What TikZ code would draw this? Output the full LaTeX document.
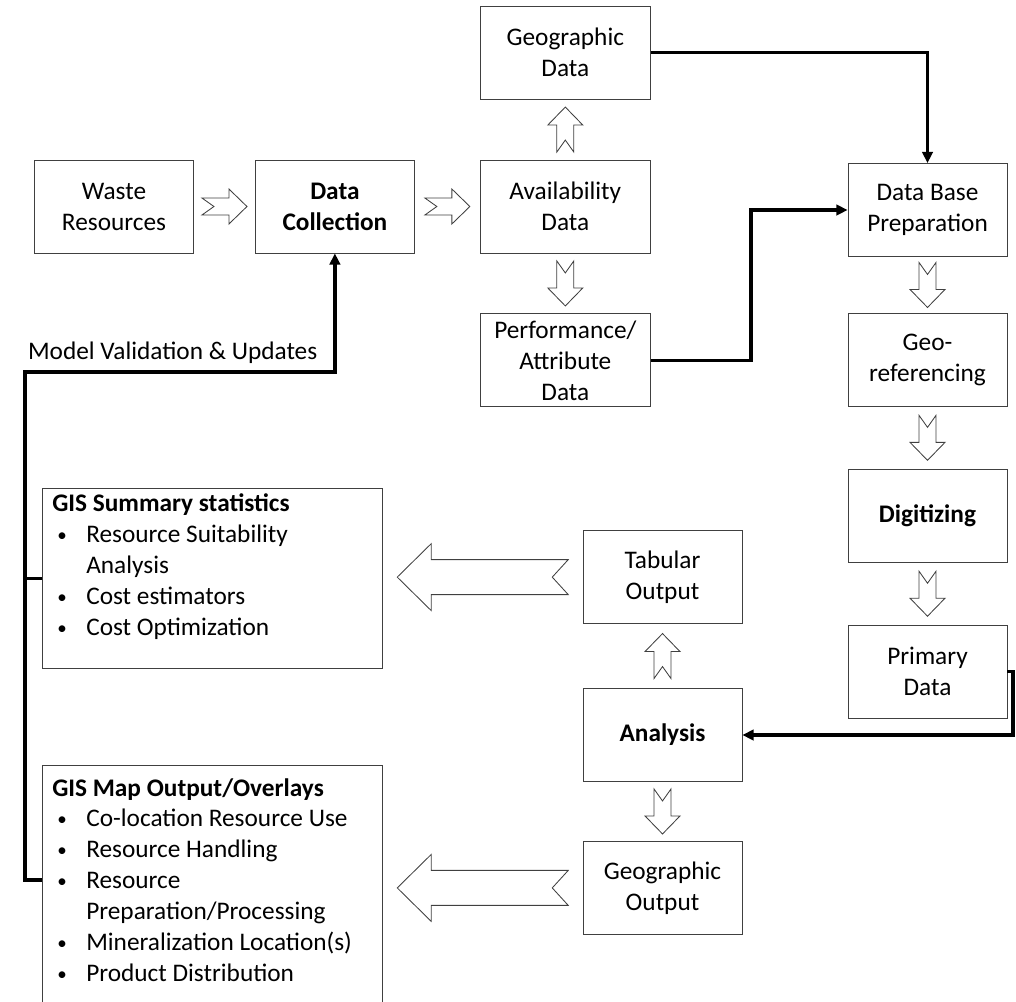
\documentclass[tikz,border=0pt]{standalone}
\usepackage{fontspec}
\setmainfont{Carlito}
\usetikzlibrary{arrows.meta, positioning, calc}
\newcommand{\bul}{\makebox[0.85cm][l]{\hspace{0.125cm}\raisebox{0.1ex}{\scalebox{0.75}{\textbullet}}}}
\newcommand{\cont}{\makebox[0.85cm]{}}
\tikzset{
    base/.style={draw=black!75, line width=0.6pt, align=center, font=\fontsize{18}{22}\selectfont, fill=white, inner sep=2pt},
    process/.style={base, rectangle, minimum width=3.975cm, minimum height=2.325cm},
    wide/.style={process, minimum width=4.25cm},
    strong/.style={font=\fontsize{18}{22}\selectfont\bfseries},
    listbox/.style={base, rectangle, anchor=north west, minimum width=8.5cm},
    listtext/.style={align=left, anchor=north west, inner sep=0pt, font=\fontsize{18}{22}\selectfont},
    wire/.style={line width=2.6pt, draw=black},
    link/.style={wire, -{Triangle[length=8pt,width=7.5pt]}},
    hollow/.style={draw=black!75, line width=0.6pt, fill=white},
    smallarrow/.pic={\draw[hollow] (-22.5,-8.5) -- (4.5,-8.5) -- (4.5,-17.5) -- (22.5,0) -- (4.5,17.5) -- (4.5,8.5) -- (-22.5,8.5) -- (-10.5,0) -- cycle;},
    bigarrow/.pic={\draw[hollow] (-85.5,-17.5) -- (51.5,-17.5) -- (51.5,-33.5) -- (85.5,0) -- (51.5,33.5) -- (51.5,17.5) -- (-85.5,17.5) -- (-69.5,0) -- cycle;}
}

\begin{document}
\begin{tikzpicture}[x=0.025cm, y=0.025cm]
    \useasboundingbox (0,0) rectangle (1016,-1001);
    \clip (0,0) rectangle (1016,-1001);

    % collection row and data sources
    \node (waste) [process] at (114,-206.5) {Waste\\Resources};
    \node (collect) [process, strong, right=1.525cm of waste] {Data\\Collection};
    \node (avail) [wide, right=1.625cm of collect] {Availability\\Data};
    \node (geodata) [wide, above=1.5cm of avail] {Geographic\\Data};
    \node (perf) [wide, below=1.5cm of avail] {Performance/\\Attribute\\Data};

    % preparation column
    \node (dbprep) [process] at (927.5,-210) {Data Base\\Preparation};
    \node (georef) [process, below=1.4cm of dbprep] {Geo-\\referencing};
    \node (digit) [process, strong, below=1.55cm of georef] {Digitizing};
    \node (primary) [process, below=1.55cm of digit] {Primary\\Data};

    % analysis column
    \node (analysis) [process, strong] at (662.5,-735) {Analysis};
    \node (tabular) [process, above=1.6cm of analysis] {Tabular\\Output};
    \node (geoout) [process, below=1.475cm of analysis] {Geographic\\Output};

    % GIS outputs
    \node (summary) [listbox, minimum height=4.5cm] at (42,-488) {};
    \node (summarytext) [listtext] at ($(summary.north west)+(10,-5.5)$) {%
        {\bfseries GIS Summary statistics}\\
        \bul Resource Suitability\\
        \cont Analysis\\
        \bul Cost estimators\\
        \bul Cost Optimization};
    \node (mapout) [listbox, minimum height=6.5cm] at (42,-765) {};
    \node (maptext) [listtext] at ($(mapout.north west)+(10,-13)$) {%
        {\bfseries GIS Map Output/Overlays}\\
        \bul Co-location Resource Use\\
        \bul Resource Handling\\
        \bul Resource\\
        \cont Preparation/Processing\\
        \bul Mineralization Location(s)\\
        \bul Product Distribution};

    % hollow arrows
    \pic at ($(waste.east)!0.5!(collect.west)$) {smallarrow};
    \pic at ($(collect.east)!0.5!(avail.west)$) {smallarrow};
    \pic[rotate=90] at ($(avail.north)!0.5!(geodata.south)$) {smallarrow};
    \pic[rotate=90] at ($(analysis.north)!0.5!(tabular.south)$) {smallarrow};
    \foreach \a/\b in {avail/perf, dbprep/georef, georef/digit, digit/primary, analysis/geoout}
        \pic[rotate=-90] at ($(\a.south)!0.5!(\b.north)$) {smallarrow};
    \pic[rotate=180] at ($(summary.east |- tabular.west)!0.5!(tabular.west)$) {bigarrow};
    \pic[rotate=180] at ($(mapout.east |- geoout.west)!0.5!(geoout.west)$) {bigarrow};

    % connectors
    \draw [link] (geodata.east) -| (dbprep.north);
    \draw [link] (perf.east) -- ++(2.5cm,0) |- (dbprep.west);
    \coordinate (rim) at (1013,-735);
    \draw [link] (primary.east) -| (rim) -- (analysis.east);

    % feedback loop
    \coordinate (fbtop) at (25,-372);
    \coordinate (fbbottom) at (25,-880);
    \draw [link] (mapout.west |- fbbottom) -- (fbbottom) -- (fbtop) -| (collect.south);
    \draw [wire] (summary.west) -- (summary.west -| fbtop);
    \node (fblabel) [anchor=south west, inner xsep=2pt, inner ysep=6pt, font=\fontsize{18}{22}\selectfont] at (fbtop) {Model Validation \& Updates};
\end{tikzpicture}
\end{document}
